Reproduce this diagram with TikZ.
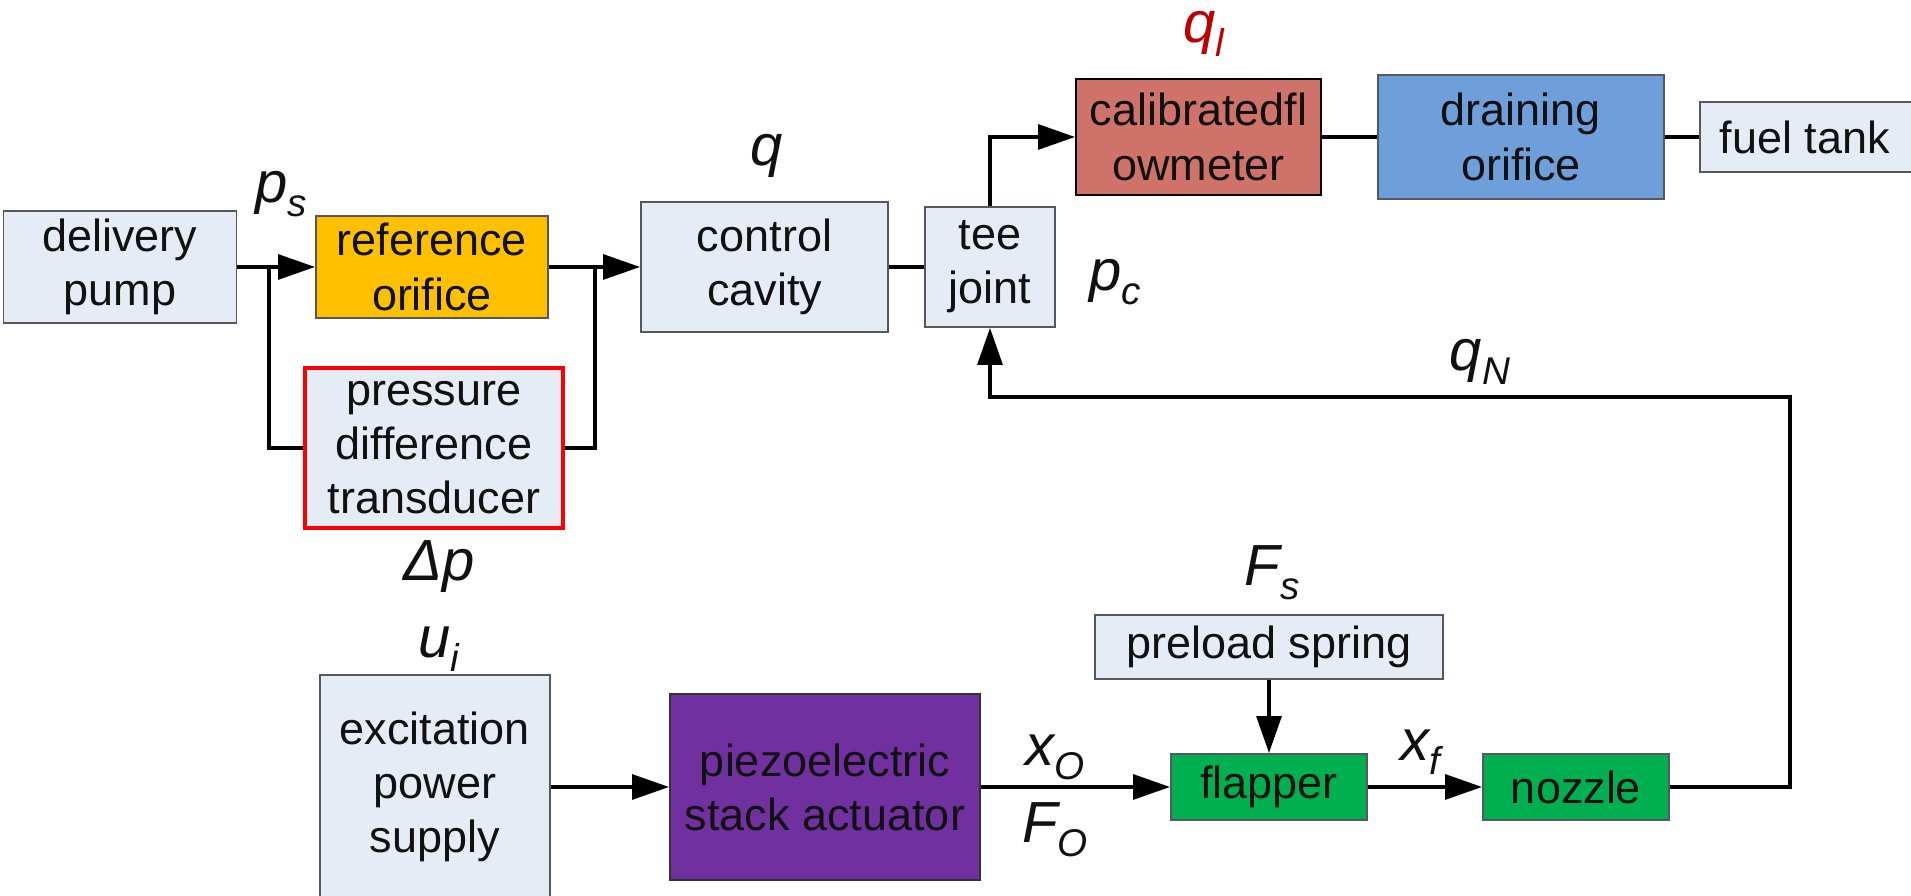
\documentclass[tikz,border=0pt]{standalone}
\usepackage{fontspec}
\setmainfont{Liberation Sans}
\usetikzlibrary{arrows.meta,calc,positioning}
\definecolor{fcInk}{HTML}{111111}
\definecolor{fcEdge}{HTML}{55585E}
\definecolor{fcPale}{HTML}{E6ECF6}
\definecolor{fcAmber}{HTML}{FFC000}
\definecolor{fcRed}{HTML}{FF0000}
\definecolor{fcDarkRed}{HTML}{C00000}
\definecolor{fcRose}{HTML}{CF736A}
\definecolor{fcBlue}{HTML}{6F9FDA}
\definecolor{fcPurple}{HTML}{7030A0}
\definecolor{fcGreen}{HTML}{00B050}
\tikzset{
  every node/.style={text=fcInk},
  blockBox/.style={rectangle, draw=fcEdge, fill=fcPale, line width=0.5pt,
    align=center, inner sep=2pt,
    font=\fontsize{12.8}{15.4}\selectfont},
  orificeBox/.style={blockBox, fill=fcAmber},
  sensorBox/.style={blockBox, draw=fcRed, line width=1.1pt},
  meterBox/.style={blockBox, fill=fcRose, draw=black},
  drainBox/.style={blockBox, fill=fcBlue},
  actuatorBox/.style={blockBox, fill=fcPurple, draw=black!80},
  valveBox/.style={blockBox, fill=fcGreen},
  varLabel/.style={font=\fontsize{16.5}{18}\selectfont\itshape, inner sep=1pt},
  fluidLine/.style={line width=1.15pt, color=black},
  fluidArrow/.style={fluidLine, -{Triangle[length=10.5pt,width=7pt]}},
}
\newcommand{\sublab}[2]{#1\raisebox{-0.45ex}{\fontsize{11}{11}\selectfont #2}}

\begin{document}
\begin{tikzpicture}[x=1cm,y=1cm]
  \useasboundingbox (0,0) rectangle (19.11,8.96);

  % Supply side and the metering pair.
  \node[blockBox, minimum width=2.33cm, minimum height=1.12cm] (pump)
    at (1.20,6.29) {delivery\\pump};
  \node[orificeBox, minimum width=2.32cm, minimum height=1.02cm] (refOrif)
    at (4.32,6.29) {reference\\orifice};
  \node[sensorBox, minimum width=2.58cm, minimum height=1.60cm] (dpSensor)
    at (4.34,4.48) {pressure\\difference\\transducer};
  \node[blockBox, minimum width=2.47cm, minimum height=1.30cm] (cavity)
    at (7.645,6.29) {control\\cavity};
  \node[blockBox, minimum width=1.30cm, minimum height=1.20cm] (tee)
    at (9.90,6.29) {tee\\joint};

  \coordinate (jIn) at (2.69,6.29);
  \coordinate (jOut) at (5.95,6.29);
  \draw[fluidArrow] (pump.east) -- (refOrif.west);
  \draw[fluidArrow] (refOrif.east) -- (cavity.west);
  \draw[fluidLine] (jIn) |- (dpSensor.west);
  \draw[fluidLine] (jOut) |- (dpSensor.east);
  \draw[fluidLine] (cavity.east) -- (tee.west);

  % Drain branch.
  \node[meterBox, minimum width=2.45cm, minimum height=1.16cm] (flowMeter)
    at (11.985,7.59) {calibratedfl\\owmeter};
  \node[drainBox, minimum width=2.86cm, minimum height=1.24cm] (drainOrif)
    at (15.21,7.59) {draining\\orifice};
  \node[blockBox, minimum width=2.30cm, minimum height=0.70cm, anchor=west]
    (tank) at (16.99,7.59) {\hspace*{-0.2cm}fuel tank};
  \draw[fluidArrow] (tee.north) |- (flowMeter.west);
  \draw[fluidLine] (flowMeter.east) -- (drainOrif.west);
  \draw[fluidLine] (drainOrif.east) -- (tank.west);

  % Actuation chain.
  \node[blockBox, minimum width=2.30cm, minimum height=2.24cm] (exciter)
    at (4.35,1.09) {excitation\\power\\supply};
  \node[actuatorBox, minimum width=3.10cm, minimum height=1.86cm] (piezo)
    at (8.25,1.09) {piezoelectric\\stack actuator};
  \node[valveBox, minimum width=1.96cm, minimum height=0.66cm] (flapper)
    at (12.69,1.09) {flapper};
  \node[valveBox, minimum width=1.86cm, minimum height=0.66cm] (nozzle)
    at (15.76,1.09) {nozzle};
  \node[blockBox, minimum width=3.48cm, minimum height=0.64cm] (spring)
    at (12.69,2.49) {preload spring};

  \draw[fluidArrow] (exciter.east) -- (piezo.west);
  \draw[fluidArrow] (piezo.east) -- (flapper.west);
  \draw[fluidArrow] (flapper.east) -- (nozzle.west);
  \draw[fluidArrow] (spring.south) -- (flapper.north);

  % Nozzle flow returns to the tee.
  \coordinate (fbCorner) at (17.90,4.99);
  \draw[fluidArrow] (nozzle.east) -| (fbCorner) -| (tee.south);

  % Signal names.
  \node[varLabel] (lblPs) at (2.81,7.02) {\sublab{p}{s}};
  \node[varLabel] (lblQ) at (7.67,7.40) {q};
  \node[varLabel, text=fcDarkRed] (lblQl) at (12.04,8.62) {\sublab{q}{l}};
  \node[varLabel] (lblPc) at (11.15,6.14) {\sublab{p}{c}};
  \node[varLabel] (lblQn) at (14.80,5.34) {\sublab{q}{N}};
  \node[varLabel] (lblDp) at (4.39,3.29) {Δp};
  \node[varLabel] (lblFs) at (12.72,3.23) {\sublab{F}{s}};
  \node[varLabel] (lblUi) at (4.39,2.47) {\sublab{u}{i}};
  \node[varLabel] (lblXo) at (10.55,1.39) {\sublab{x}{O}};
  \node[varLabel] (lblFo) at (10.55,0.66) {\sublab{F}{O}};
  \node[varLabel] (lblXf) at (14.20,1.44) {\sublab{x}{f}};
\end{tikzpicture}
\end{document}
